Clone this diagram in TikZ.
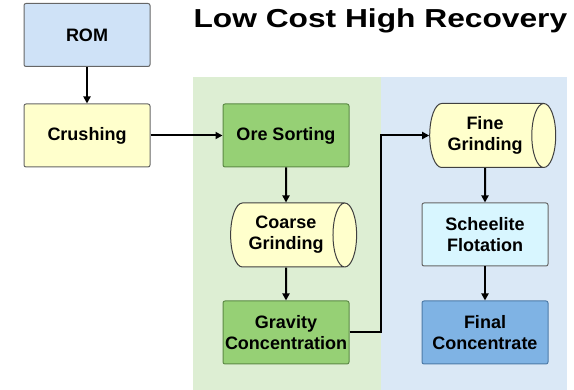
\documentclass[tikz,border=0pt]{standalone}
\usepackage{fontspec}
\setmainfont{Liberation Sans}
\usetikzlibrary{calc, positioning}
\usetikzlibrary{arrows.meta}
\usetikzlibrary{shapes.geometric}

\definecolor{romblue}{HTML}{CFE2F7}
\definecolor{crushyellow}{HTML}{FFFFCC}
\definecolor{sortgreen}{HTML}{96D075}
\definecolor{sortedge}{HTML}{5C8A45}
\definecolor{panelgreen}{HTML}{DDEED3}
\definecolor{panelblue}{HTML}{DAE8F6}
\definecolor{flotcyan}{HTML}{D8F6FF}
\definecolor{finalblue}{HTML}{7FB3E4}
\definecolor{finaledge}{HTML}{4D7BA8}

\begin{document}
\begin{tikzpicture}[x=1pt, y=-1pt,
  stagebox/.style={draw=gray!80!black, line width=1pt, rounded corners=2pt,
    minimum width=126pt, minimum height=63pt, align=center, inner sep=1pt,
    font=\bfseries\fontsize{18}{21}\selectfont},
  millbox/.style={cylinder, draw=black!75, line width=1pt, aspect=0.6,
    minimum width=64pt, minimum height=126pt, align=center, inner sep=1pt,
    cylinder uses custom fill, cylinder body fill=crushyellow, cylinder end fill=crushyellow,
    font=\bfseries\fontsize{18}{21}\selectfont},
  flow/.style={-{Triangle[length=7pt, width=7pt]}, line width=2pt}]
\useasboundingbox (0,0) rectangle (574,390);

% panels
\fill[panelgreen] (193,77) rectangle (381,390);
\fill[panelblue] (381,77) rectangle (567,390);

\node[anchor=base west] (title) at (190,28)
  {\scalebox{1.22}[1]{\bfseries\fontsize{26}{30}\selectfont Low Cost High Recovery}};

\node[stagebox, fill=romblue] (rom) at (87,35) {ROM};
\node[stagebox, fill=crushyellow] (crush) at (87,135.5) {Crushing};
\node[stagebox, fill=sortgreen, draw=sortedge] (sort) at (286,135.5) {Ore Sorting};
\node[millbox] (coarse) at (286,235) {Coarse\\Grinding};
\node[stagebox, fill=sortgreen, draw=sortedge] (grav) at (286,332.5) {Gravity\\Concentration};
\node[millbox] (fine) at (485,135.5) {Fine\\Grinding};
\node[stagebox, fill=flotcyan] (flot) at (485,234.5) {Scheelite\\Flotation};
\node[stagebox, fill=finalblue, draw=finaledge] (final) at (485,332.5) {Final\\Concentrate};

\coordinate (turn) at (381,0);

\draw[flow] (rom) -- (crush);
\draw[flow] (crush) -- (sort);
\draw[flow] (sort) -- (coarse);
\draw[flow] (coarse) -- (grav);
\draw[flow] (grav.east) -- (grav.east -| turn) |- (fine.west);
\draw[flow] (fine) -- (flot);
\draw[flow] (flot) -- (final);
\end{tikzpicture}
\end{document}
